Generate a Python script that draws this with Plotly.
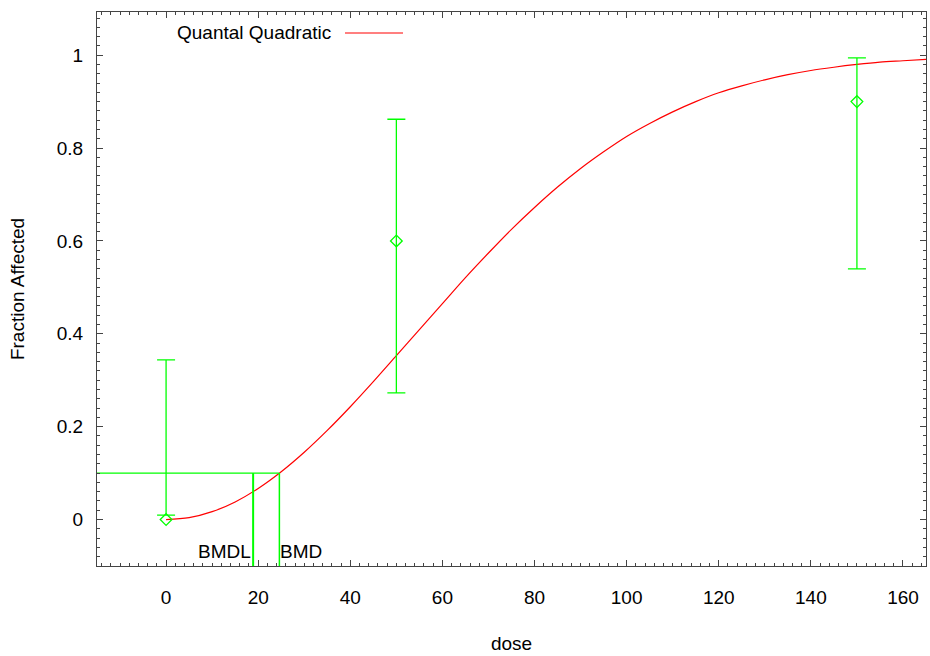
import plotly.graph_objects as go

# Observed data (dose groups, fraction affected, confidence limits)
doses = [0, 50, 150]
frac = [0.0, 0.6, 0.9]
ci_low = [0.0095, 0.273, 0.540]
ci_high = [0.344, 0.862, 0.994]

# Fitted Quantal Quadratic curve
curve_dose = [0, 5, 10, 15, 20, 25, 30, 35, 40, 45, 50, 55, 60, 65, 70, 75, 80,
              85, 90, 95, 100, 105, 110, 115, 120, 125, 130, 135, 140, 145, 150,
              155, 160, 165]
curve_val = [0.0, 0.004, 0.017, 0.038, 0.067, 0.103, 0.145, 0.192, 0.243, 0.297,
             0.353, 0.409, 0.465, 0.521, 0.574, 0.625, 0.672, 0.716, 0.756, 0.792,
             0.825, 0.853, 0.878, 0.900, 0.919, 0.934, 0.947, 0.958, 0.967, 0.974,
             0.980, 0.985, 0.988, 0.991]

bmr = 0.1
bmd = 24.6
bmdl = 18.9

x_range = [-15, 165]
y_range = [-0.1, 1.093]
x_ticks = [0, 20, 40, 60, 80, 100, 120, 140, 160]
x_labels = ["0", "20", "40", "60", "80", "100", "120", "140", "160"]
y_ticks = [0, 0.2, 0.4, 0.6, 0.8, 1]
y_labels = ["0", "0.2", "0.4", "0.6", "0.8", "1"]

GREEN = "#00ff00"
RED = "#ff0000"
FONT = "Liberation Sans, Arial, sans-serif"
FS = 19

fig = go.Figure()

fig.add_trace(go.Scatter(
    x=curve_dose, y=curve_val, mode="lines",
    line=dict(color=RED, width=1.2, shape="spline", smoothing=0.9),
    showlegend=False, hoverinfo="skip"))

fig.add_trace(go.Scatter(
    x=doses, y=frac, mode="markers",
    marker=dict(symbol="diamond-open", size=9, color=GREEN, line=dict(width=1.3, color=GREEN)),
    error_y=dict(type="data", symmetric=False,
                 array=[h - f for h, f in zip(ci_high, frac)],
                 arrayminus=[f - l for f, l in zip(frac, ci_low)],
                 color=GREEN, thickness=1.3, width=9),
    showlegend=False))

# BMR horizontal line and BMD / BMDL verticals
fig.add_trace(go.Scatter(x=[x_range[0], bmd], y=[bmr, bmr], mode="lines",
                         line=dict(color=GREEN, width=1.3), showlegend=False, hoverinfo="skip"))
fig.add_trace(go.Scatter(x=[bmd, bmd], y=[y_range[0], bmr], mode="lines",
                         line=dict(color=GREEN, width=1.5), showlegend=False, hoverinfo="skip"))
fig.add_trace(go.Scatter(x=[bmdl, bmdl], y=[y_range[0], bmr], mode="lines",
                         line=dict(color=GREEN, width=2), showlegend=False, hoverinfo="skip"))

fig.add_annotation(x=bmdl, y=-0.068, text="BMDL", showarrow=False, xanchor="right",
                   yanchor="middle", xshift=0, font=dict(family=FONT, size=FS, color="black"))
fig.add_annotation(x=bmd, y=-0.068, text="BMD", showarrow=False, xanchor="left",
                   yanchor="middle", xshift=-1, font=dict(family=FONT, size=FS, color="black"))

axis_common = dict(
    showline=True, linecolor="#444444", linewidth=1, mirror="ticks",
    ticks="inside", ticklen=6, tickcolor="#444444", tickwidth=1,
    showgrid=False, zeroline=False, automargin=False,
    tickfont=dict(family=FONT, size=FS, color="black"),
)

fig.update_layout(
    width=930, height=656,
    margin=dict(l=97, r=4, t=12, b=90),
    plot_bgcolor="white", paper_bgcolor="white",
    font=dict(family=FONT, size=FS, color="black"),
    xaxis=dict(range=x_range, tickvals=x_ticks, ticktext=x_labels, ticklabelstandoff=14,
               minor=dict(ticks="inside", dtick=2, tick0=0, ticklen=3, tickcolor="#444444"),
               title=dict(text="dose", standoff=29, font=dict(family=FONT, size=FS)),
               **axis_common),
    yaxis=dict(range=y_range, tickvals=y_ticks, ticktext=y_labels, ticklabelstandoff=9,
               minor=dict(ticks="inside", dtick=0.02, tick0=0, ticklen=3, tickcolor="#444444"),
               title=dict(text="Fraction Affected", standoff=27, font=dict(family=FONT, size=FS)),
               **axis_common),
)

# Legend (text left of the line sample), placed in paper coordinates
pw = 930 - 97 - 4
ph = 656 - 12 - 90
leg_y = 1 - (33 - 12) / ph
fig.add_annotation(x=(333 - 97) / pw, y=leg_y, xref="paper", yref="paper",
                   text="Quantal Quadratic", showarrow=False, xanchor="right", yanchor="middle",
                   font=dict(family=FONT, size=FS, color="black"))
fig.add_shape(type="line", xref="paper", yref="paper",
              x0=(345 - 97) / pw, x1=(403 - 97) / pw, y0=leg_y, y1=leg_y,
              line=dict(color=RED, width=1.2))

fig.write_html("out.html", config={"displayModeBar": False},
               post_script="document.body.style.margin='0px';document.body.style.overflow='hidden';")
